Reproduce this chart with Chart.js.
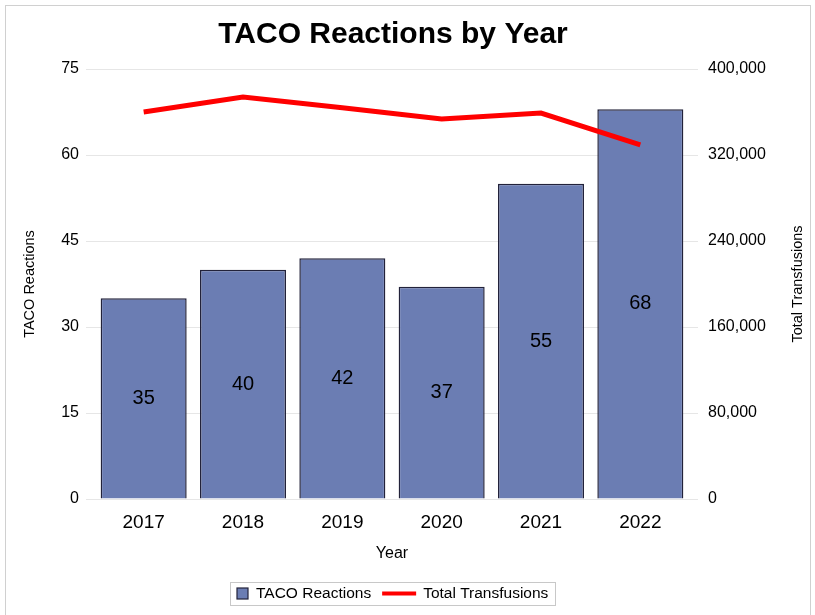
<!DOCTYPE html>
<html>
<head>
<meta charset="utf-8">
<script src="https://cdn.jsdelivr.net/npm/chart.js@4.4.0/dist/chart.umd.min.js"></script>
<style>
  html, body { margin: 0; padding: 0; background: #fff; }
  #frame { position: absolute; left: 5px; top: 5px; width: 806px; height: 620px; border: 1px solid #d0d0d0; box-sizing: border-box; }
  #wrap { position: absolute; left: 0; top: 0; width: 815px; height: 615px; }
</style>
</head>
<body>
<div id="frame"></div>
<div id="wrap"><canvas id="chart" width="815" height="615"></canvas></div>
<script>
// Data
const years = ['2017', '2018', '2019', '2020', '2021', '2022'];
const tacoReactions = [35, 40, 42, 37, 55, 68];
const totalTransfusions = [360000, 374000, 364000, 353500, 359000, 329500];

const FONT = 'Liberation Sans, Arial, sans-serif';
const BAR_FILL = '#6b7db3';
const BAR_EDGE = '#22223a';
const LINE_COLOR = '#ff0000';

// bar value labels, centered in each bar
const barLabels = {
    id: 'barLabels',
    afterDatasetsDraw(chart) {
        const ctx = chart.ctx;
        const meta = chart.getDatasetMeta(0);
        ctx.save();
        ctx.font = '20px ' + FONT;
        ctx.fillStyle = '#000';
        ctx.textAlign = 'center';
        ctx.textBaseline = 'middle';
        meta.data.forEach((bar, i) => {
            ctx.fillText(String(tacoReactions[i]), bar.x, (bar.y + bar.base) / 2);
        });
        ctx.restore();
    }
};

// right axis title reads bottom to top, and the boxed legend under the chart
const extras = {
    id: 'extras',
    afterDraw(chart) {
        const ctx = chart.ctx;
        const area = chart.chartArea;
        ctx.save();
        ctx.fillStyle = '#000';
        ctx.font = '14.5px ' + FONT;
        ctx.textAlign = 'center';
        ctx.textBaseline = 'middle';
        ctx.translate(798, (area.top + area.bottom) / 2);
        ctx.rotate(-Math.PI / 2);
        ctx.fillText('Total Transfusions', 0, 0);
        ctx.restore();

        // legend
        ctx.save();
        ctx.font = '15.5px ' + FONT;
        ctx.textBaseline = 'middle';
        const t1 = 'TACO Reactions', t2 = 'Total Transfusions';
        const w1 = ctx.measureText(t1).width, w2 = ctx.measureText(t2).width;
        const sq = 11, gap = 8, ln = 34, between = 11, pad = 7;
        const inner = sq + gap + w1 + between + ln + gap - 1 + w2;
        const cx = 392.5, cy = 593.5;
        const left = Math.round(cx - inner / 2 - pad);
        const boxW = Math.round(inner + pad * 2);
        ctx.strokeStyle = '#c8c8c8';
        ctx.lineWidth = 1;
        ctx.strokeRect(left + 0.5, 582.5, boxW, 23);
        let x = left + pad;
        ctx.fillStyle = BAR_FILL;
        ctx.fillRect(x, cy - sq / 2, sq, sq);
        ctx.strokeStyle = BAR_EDGE;
        ctx.lineWidth = 1.2;
        ctx.strokeRect(x, cy - sq / 2, sq, sq);
        x += sq + gap;
        ctx.fillStyle = '#000';
        ctx.fillText(t1, x, cy + 0.5);
        x += w1 + between;
        ctx.strokeStyle = LINE_COLOR;
        ctx.lineWidth = 4;
        ctx.beginPath();
        ctx.moveTo(x, cy);
        ctx.lineTo(x + ln, cy);
        ctx.stroke();
        x += ln + gap - 1;
        ctx.fillText(t2, x, cy + 0.5);
        ctx.restore();
    }
};

const ctx = document.getElementById('chart').getContext('2d');
new Chart(ctx, {
    type: 'bar',
    data: {
        labels: years,
        datasets: [{
            type: 'bar',
            label: 'TACO Reactions',
            data: tacoReactions,
            backgroundColor: BAR_FILL,
            borderColor: BAR_EDGE,
            borderWidth: 1.5,
            categoryPercentage: 0.866,
            barPercentage: 1.0,
            yAxisID: 'y',
            order: 1
        }, {
            type: 'line',
            label: 'Total Transfusions',
            data: totalTransfusions,
            borderColor: LINE_COLOR,
            backgroundColor: LINE_COLOR,
            borderWidth: 5,
            pointRadius: 0,
            tension: 0,
            yAxisID: 'y1',
            order: 0
        }]
    },
    options: {
        responsive: false,
        animation: false,
        layout: { padding: { left: 8, right: 37, top: 0, bottom: 52 } },
        plugins: {
            title: {
                display: true,
                text: 'TACO Reactions by Year',
                color: '#000',
                font: { family: FONT, size: 30, weight: 'bold', lineHeight: 1.2 },
                padding: { top: 17, bottom: 16 }
            },
            legend: { display: false },
            tooltip: { enabled: false }
        },
        scales: {
            x: {
                grid: { display: false, drawTicks: false },
                border: { display: false },
                ticks: { color: '#000', font: { family: FONT, size: 19 }, padding: 12 },
                title: { display: true, text: 'Year', color: '#000', font: { family: FONT, size: 16, lineHeight: 1.2 }, padding: { top: 0, bottom: 0 } },
                afterFit(scale) { scale.height = 64; }
            },
            y: {
                position: 'left',
                min: 0,
                max: 75,
                ticks: { stepSize: 15, color: '#000', font: { family: FONT, size: 16 }, padding: 7 },
                grid: { color: '#e6e6e6', tickLength: 8 },
                border: { display: false },
                title: { display: true, text: 'TACO Reactions', color: '#000', font: { family: FONT, size: 14.5, lineHeight: 1.2 }, padding: { top: 13, bottom: 0 } },
                afterFit(scale) { scale.width = 86; }
            },
            y1: {
                position: 'right',
                min: 0,
                max: 400000,
                ticks: {
                    stepSize: 80000,
                    color: '#000',
                    font: { family: FONT, size: 16 },
                    padding: 10,
                    callback: v => v.toLocaleString('en-US')
                },
                grid: { drawOnChartArea: false, color: '#e6e6e6', tickLength: 8 },
                border: { display: false },
                afterFit(scale) { scale.width = 88; }
            }
        }
    },
    plugins: [barLabels, extras]
});
</script>
</body>
</html>
